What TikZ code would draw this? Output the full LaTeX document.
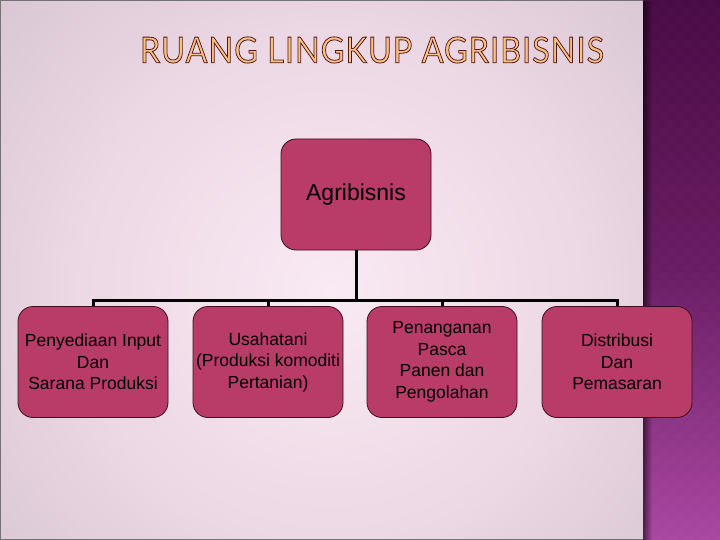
\documentclass[tikz,border=0pt]{standalone}
\usepackage{fontspec}
\setmainfont{Liberation Sans}
\newfontfamily\titlefont{Lato}[LetterSpace=3]
\usetikzlibrary{fadings}
\definecolor{bgA}{HTML}{F9EAF3}
\definecolor{bgB}{HTML}{EDD8E5}
\definecolor{bgC}{HTML}{CDBEC9}
\definecolor{bgD}{HTML}{A39CA4}
\definecolor{bgE}{HTML}{8E8890}
\definecolor{stripTop}{HTML}{4A0C46}
\definecolor{stripMid}{HTML}{6A1E64}
\definecolor{stripBot}{HTML}{AA48A2}
\definecolor{boxfill}{HTML}{B93C68}
\definecolor{boxline}{HTML}{3A0E1C}
\definecolor{titlefill}{HTML}{F7C282}
\pgfdeclareradialshading{bgshade}{\pgfpoint{0bp}{0bp}}{color(0bp)=(bgA); color(10bp)=(bgB); color(22bp)=(bgC); color(36bp)=(bgD); color(50bp)=(bgE)}
\tikzset{
  orgbox/.style={draw=boxline, line width=0.8pt, fill=boxfill, rounded corners=15pt,
    minimum width=150pt, minimum height=111pt, inner sep=0pt, align=center,
    text=black, font=\fontsize{17.5}{21.5}\selectfont},
  topbox/.style={orgbox, font=\fontsize{23}{27}\selectfont},
  conn/.style={line width=3pt, black, line join=miter}
}
\begin{document}
\begin{tikzpicture}[x=1pt, y=-1pt]
\useasboundingbox (0,0) rectangle (720,540);
% background
\begin{scope}
  \clip (0,0) rectangle (643,540);
  \shade[shading=bgshade] (330,290) circle (620);
\end{scope}
\draw[black!55, line width=1.2pt] (0,0.6) -- (643,0.6);
\draw[black!55, line width=1.2pt] (0.6,0) -- (0.6,540);
\draw[black!55, line width=1.2pt] (0,539.4) -- (643,539.4);
% right strip
\shade[top color=stripTop, bottom color=stripBot, middle color=stripMid] (643,0) rectangle (720,540);
\begin{scope}
  \clip (643,0) rectangle (720,540);
  \foreach \k in {-40,...,40} {
    \draw[white, opacity=0.025, line width=1pt] (643+\k*16,0) -- ++(540,540);
    \draw[black, opacity=0.025, line width=1pt] (643+\k*16,0) -- ++(-540,540);
  }
\end{scope}
\fill[black, fill opacity=0.55, path fading=east] (643,0) rectangle (652,540);
% title
\node (title) at (372,50) {\resizebox{464pt}{26pt}{\titlefont\color{titlefill}\special{pdf:literal direct 2 Tr 0.22 w 0.33 0.08 0.1 RG}RUANG LINGKUP AGRIBISNIS\special{pdf:literal direct 0 Tr}}};
% boxes
\node[topbox] (top) at (356,194.5) {Agribisnis};
\node[orgbox] (c1) at (93,362) {Penyediaan Input\\Dan\\Sarana Produksi};
\node[orgbox] (c2) at (268,362) {Usahatani\\(Produksi komoditi\\Pertanian)};
\node[orgbox] (c3) at (442,362) {Penanganan\\Pasca\\Panen dan\\Pengolahan};
\node[orgbox] (c4) at (617,362) {Distribusi\\Dan\\Pemasaran};
\coordinate (bus) at (356,300);
% connectors
\draw[conn] (top.south) -- (top.south |- bus);
\draw[conn] (c1.north) -- (c1.north |- bus) -- (c4.north |- bus) -- (c4.north);
\draw[conn] (c2.north) -- (c2.north |- bus);
\draw[conn] (c3.north) -- (c3.north |- bus);
\end{tikzpicture}
\end{document}
